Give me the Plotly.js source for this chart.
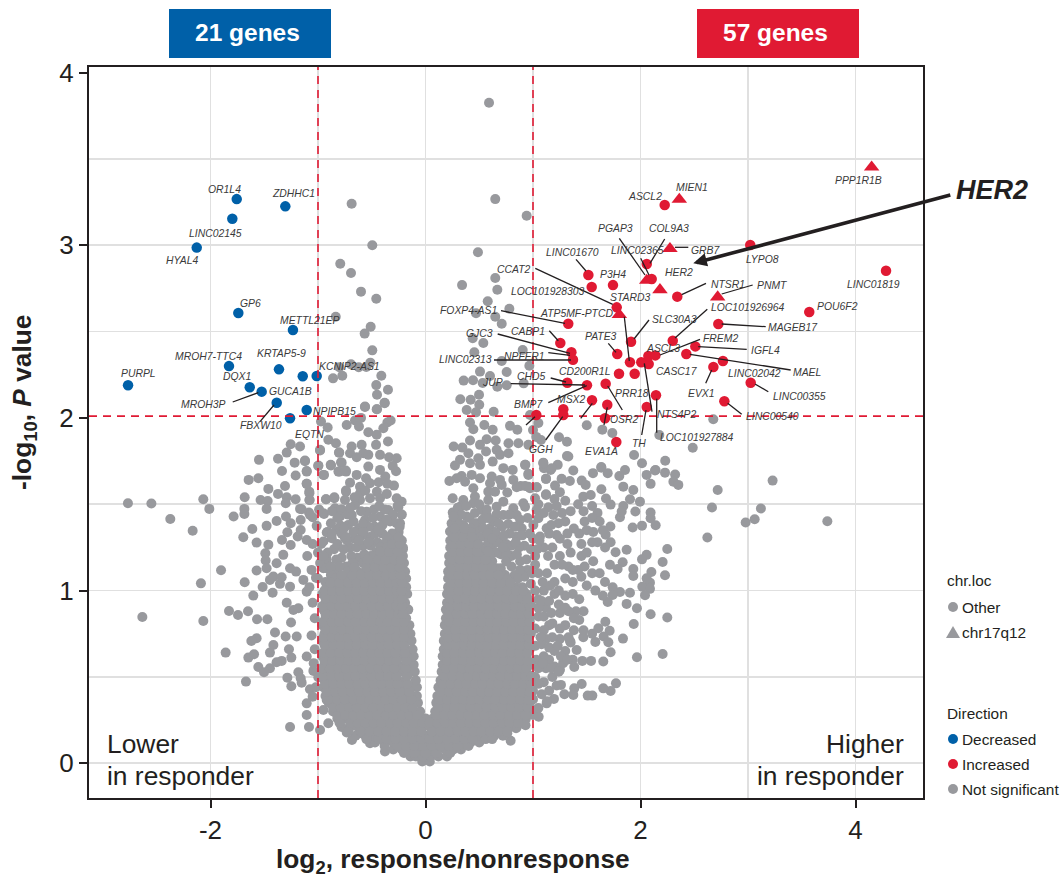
<!DOCTYPE html>
<html><head><meta charset="utf-8">
<script src="https://cdn.plot.ly/plotly-3.0.1.min.js"></script>
<style>html,body{margin:0;padding:0;background:#fff}#c{width:1062px;height:875px}</style>
</head><body><div id="c"></div>
<script>
// ---------- DATA (log2 fold change, -log10 P) ----------
const decreasedGenes = ["OR1L4","","ZDHHC1","HYAL4","GP6","METTL21EP","MROH7-TTC4","KRTAP5-9","","KCNIP2-AS1","PURPL","DQX1","MROH3P","FBXW10","NPIPB15","EQTN"];
const decreasedX = [-1.756,-1.797,-1.304,-2.128,-1.741,-1.233,-1.828,-1.363,-1.142,-1.012,-2.767,-1.635,-1.524,-1.384,-1.105,-1.26];
const decreasedY = [3.267,3.153,3.225,2.986,2.607,2.509,2.30,2.281,2.241,2.243,2.189,2.177,2.152,2.088,2.046,1.998];

const increasedCircleX = [2.225,1.515,1.546,1.744,2.058,2.104,2.342,1.779,1.328,3.021,4.284,3.570,2.724,1.254,1.357,1.372,1.784,1.912,1.902,2.007,2.076,2.073,2.138,2.300,2.51,2.426,2.767,2.678,3.025,2.78,1.80,1.946,1.319,1.502,1.676,1.549,1.691,2.144,2.058,1.031,1.282,1.282,1.67,1.775];
const increasedCircleY = [3.233,2.827,2.758,2.769,2.891,2.804,2.702,2.640,2.545,3.001,2.852,2.613,2.544,2.434,2.380,2.337,2.370,2.441,2.322,2.322,2.312,2.358,2.362,2.447,2.414,2.370,2.329,2.295,2.204,2.096,2.256,2.256,2.204,2.189,2.198,2.102,2.076,2.131,2.063,2.017,2.05,2.017,1.998,1.860];
const increasedTriangleX = [2.361,2.274,2.058,2.181,2.718,1.803,4.150];
const increasedTriangleY = [3.265,2.98,2.796,2.742,2.70,2.598,3.452];

const grayOutliers = [[.591,3.825],[.649,3.267],[.941,3.171],[-.687,3.24],[-.495,3.0],[-.793,2.893],[-.693,2.839],[-.6,2.731],[-.458,2.69],[-.835,2.586],[-.51,2.528],[-.566,2.488],[-.495,2.391],[-.513,2.32],[-.86,2.229],[-.802,2.293],[-.693,2.31],[-.621,2.293],[-.551,2.295],[-.411,2.244],[-.774,2.244],[-.458,2.19],[-.349,2.163],[-.451,2.134],[-.38,2.088],[-.563,2.063],[-.451,2.05],[-.6,2.0],
[.488,2.959],[.34,2.769],[.649,2.81],[.668,2.742],[.579,2.675],[.78,2.632],[.47,2.606],[.649,2.586],[.709,2.545],[.439,2.461],[.538,2.434],[.454,2.38],[.904,2.393],[.709,2.329],[.966,2.302],[.507,2.268],[.755,2.266],[.6,2.243],[.355,2.216],[.442,2.218],[.532,2.202],[.668,2.181],[.755,2.189],[.913,2.2],[.498,2.134],[.324,2.108],[.42,2.105],[.5,2.076],[.383,2.046],[.47,2.032],[.634,2.036],[.972,2.017],
[1.5,1.957],[1.645,1.932],[1.738,1.913],[2.175,1.901],[2.677,1.992],[2.486,1.827],[1.94,1.785],[2.014,1.737],[2.23,1.752],[2.14,1.698],[1.635,1.716],[1.856,1.698],[1.242,1.888],[1.316,1.862],[1.316,1.779],[1.074,1.872],[1.05,1.97],[1.0,1.93],[1.03,1.89]];
const grayFarRight = [[2.135,1.695],[2.057,1.67],[2.228,1.683],[2.094,1.618],[2.322,1.672],[2.306,1.631],[2.352,1.612],[3.229,1.637],[2.718,1.583],[2.665,1.481],[3.12,1.475],[3.062,1.413],[2.978,1.394],[3.738,1.402],[2.622,1.307],[1.933,1.583],[1.995,1.515],[1.84,1.602],[1.902,1.529],[1.803,1.664],[1.695,1.68],[1.558,1.68],[1.636,1.712],[1.329,1.776],[1.375,1.695],[1.23,1.728],[1.164,1.699],[1.102,1.708],[1.096,1.741],[.929,1.728],[.957,1.676],[1.121,1.647],[1.266,1.647],[1.343,1.635],[1.453,1.637],[1.49,1.612],[1.205,1.608],[1.25,1.57],[1.121,1.558],[1.034,1.598],[.957,1.602],[.885,1.606],[1.636,1.587],[1.468,1.544],[1.537,1.554],[1.679,1.533],[1.722,1.498],[1.84,1.49],[1.809,1.425],[1.825,1.458],[1.952,1.458],[2.094,1.452],[2.094,1.419],[2.141,1.378],[2.014,1.376],[1.927,1.365],[1.72,1.371],[1.676,1.324],[1.722,1.28],[1.871,1.237],[2.249,1.241],[2.057,1.207],[2.014,1.181],[2.206,1.166],[1.834,1.164],[1.768,1.222],[1.787,1.125],[1.716,1.149],[2.101,1.108],[1.933,1.125],[1.933,1.085],[2.228,1.089],[2.088,1.046],[2.057,1.071],[2.017,1.023],[2.088,1.01],[1.902,.988],[2.042,.973],[1.809,.992],[1.741,1.019],[1.741,.975],[1.695,.934],[1.871,.923],[1.967,.898],[2.094,.863],[2.249,.844],[1.937,.807],[1.837,.722],[1.673,.82],[1.608,.782],[1.713,.768],[1.657,.734],[1.701,.701],[1.58,.703],[1.722,.643],[1.967,.614],[2.206,.633],[1.654,.589],[1.54,.593],[1.459,.593],[1.384,.558],[1.406,.656],[1.344,.708],[1.468,.73],[1.772,.463],[1.722,.419],[1.654,.434],[1.552,.392],[1.509,.392],[1.453,.459],[1.384,.434],[1.375,.396],[1.292,.4],[1.26,.454],[1.251,.541],[1.195,.373],[1.127,.347],[1.053,.27],[.932,.255],[.792,.131],[.842,.203],[.761,.174],[1.0,.5],
[1.05,1.5],[1.2,1.53],[1.3,1.52],[1.35,1.46],[1.42,1.5],[1.47,1.46],[1.55,1.49],[1.6,1.45],[1.48,1.4],[1.55,1.42],[1.62,1.4],[1.3,1.4],[1.38,1.36],[1.43,1.33],[1.5,1.35],[1.56,1.34],[1.65,1.35],[1.6,1.28],[1.67,1.25],[1.55,1.28],[1.45,1.27],[1.25,1.3],[1.32,1.27],[1.18,1.25],[1.25,1.2],[1.35,1.22],[1.45,1.2],[1.5,1.22],[1.56,1.17],[1.48,1.14],[1.42,1.12],[1.33,1.14],[1.2,1.15],[1.13,1.1],[1.2,1.05],[1.3,1.07],[1.37,1.05],[1.45,1.08],[1.55,1.1],[1.62,1.1],[1.67,1.05],[1.5,1.03],[1.58,1.0],[1.65,.97],[1.43,.95],[1.37,.98],[1.3,.97],[1.2,.98],[1.1,1.0],[1.05,1.1],[1.02,1.2],[1.1,1.25],[1.47,.88],[1.4,.88],[1.43,.83],[1.33,.88],[1.25,.87],[1.12,.9],[1.05,.95],[1.3,.8],[1.25,.78],[1.15,.8],[1.05,.85],[1.38,.77],[1.47,.77],[1.55,.75],[1.35,.7],[1.25,.72],[1.12,.72],[1.02,.78],[1.2,.65],[1.3,.65],[1.37,.6],[1.1,.62],[1.02,.68],[1.28,.58],[1.2,.56],[1.12,.55],[1.03,.6],[1.1,.47],[1.18,.5],[1.02,.5],[1.15,.42],[1.08,.4],[1.0,.42],[1.05,.32],[.97,.33]];
const grayFarLeft = [[-2.768,1.506],[-2.55,1.504],[-2.374,1.415],[-2.166,1.347],[-2.067,1.529],[-2.011,1.473],[-1.785,1.429],[-1.685,1.473],[-1.685,1.444],[-1.682,1.541],[-1.645,1.641],[-1.555,1.651],[-1.549,1.757],[-1.372,1.763],[-1.291,1.799],[-1.254,1.847],[-1.167,1.834],[-1.335,1.693],[-1.217,1.741],[-1.121,1.753],[-1.208,1.666],[-1.105,1.689],[-.997,1.722],[-.981,1.811],[-.944,1.67],[-.882,1.728],[-.78,1.741],[-.802,1.799],[-.81,1.689],[-.739,1.689],[-1.105,1.618],[-1.307,1.606],[-1.462,1.589],[-1.372,1.56],[-1.291,1.541],[-1.534,1.525],[-1.468,1.519],[-1.3,1.506],[-1.208,1.529],[-1.478,1.473],[-1.167,1.473],[-1.081,1.573],[-1.078,1.525],[-.925,1.529],[-.848,1.535],[-.739,1.573],[-.84,1.473],[-1.084,1.452],[-.944,1.444],[-1.298,1.429],[-1.385,1.403],[-1.478,1.375],[-1.254,1.39],[-1.161,1.409],[-1.05,1.425],[-1.611,1.357],[-1.285,1.338],[-1.161,1.351],[-1.012,1.375],[-1.695,1.309],[-1.571,1.278],[-1.462,1.266],[-1.335,1.293],[-1.189,1.313],[-1.105,1.293],[-.95,1.284],[-.919,1.336],[-.826,1.355],[-.872,1.303],[-.79,1.375],[-.749,1.303],[-1.254,1.264],[-1.49,1.216],[-1.487,1.174],[-1.323,1.207],[-1.478,1.129],[-1.385,1.158],[-1.26,1.129],[-1.204,1.11],[-1.571,1.116],[-1.902,1.118],[-2.089,1.042],[-1.682,1.048],[-1.515,1.021],[-1.422,.988],[-1.602,.971],[-1.447,1.062],[-1.354,1.039],[-1.415,1.081],[-1.338,1.077],[-1.26,1.023],[-1.136,1.062],[-1.019,1.075],[-1.105,.994],[-1.291,.93],[-1.229,.888],[-1.183,.898],[-2.634,.847],[-2.067,.824],[-1.828,.882],[-1.744,.859],[-1.651,.88],[-1.567,.834],[-1.471,.834],[-1.251,.815],[-1.4,.757],[-1.301,.734],[-1.198,.734],[-1.571,.724],[-1.62,.708],[-1.415,.685],[-1.447,.641],[-1.27,.66],[-1.859,.641],[-1.648,.612],[-1.595,.631],[-1.338,.593],[-1.385,.585],[-1.248,.612],[-1.105,.618],[-1.555,.558],[-1.447,.55],[-1.502,.527],[-1.183,.527],[-1.043,.535],[-1.161,.492],[-1.285,.496],[-1.248,.446],[-1.152,.467],[-1.67,.473],[-1.075,.429],[-.997,.498],[-1.05,.386],[-1.105,.347],[-1.105,.28],[-1.26,.21],[-1.084,.21],[-.981,.193],[-.904,.232],[-.95,.309],[-.919,.367],[-.733,.178],[-.684,.135],[-.609,.174],[-.516,.116],[-.377,.068]];
const grayMidLeft = [[-.972,1.979],[-.91,1.944],[-.563,2.066],[-.454,2.05],[-.38,2.085],[-.656,1.985],[-.619,1.95],[-.733,1.959],[-.532,1.917],[-.454,1.902],[-.355,1.973],[-.324,1.985],[-.392,1.94],[-.904,1.873],[-.833,1.853],[-.805,1.799],[-.981,1.815],[-.687,1.834],[-.594,1.844],[-.46,1.844],[-.349,1.863],[-.578,1.795],[-.702,1.795],[-.64,1.772],[-.532,1.786],[-.423,1.786],[-.339,1.772],[-.268,1.766],[-1.121,1.749],[-.997,1.724],[-.879,1.724],[-.786,1.743],[-1.105,1.693],[-.95,1.67],[-.801,1.689],[-.742,1.695],[-.532,1.718],[-.423,1.699],[-.305,1.722],[-.274,1.691],[-.64,1.67],[-.553,1.651],[-.702,1.625],[-.436,1.627],[-.374,1.66],[-.609,1.602],[-.516,1.622],[-.293,1.608],[-.355,1.618],[-1.105,1.618],[-.74,1.579],[-.609,1.564],[-.452,1.573],[-1.08,1.564],[-1.08,1.525],[-.926,1.529],[-.848,1.541],[-.749,1.525],[-.609,1.525],[-.516,1.535],[-.423,1.535],[-.268,1.535],[-.222,1.515],[-.253,1.483],[-.656,1.496],[-.842,1.477],[-.78,1.471],[-.346,1.467],[-.547,1.457],[-1.152,1.471],[-1.074,1.438],[-.95,1.448],[-.795,1.429],[-.686,1.438],[-.562,1.409],[-.423,1.429],[-.237,1.39],[-.33,1.4],[-.47,1.37],[-.62,1.36],[-.72,1.38],[-.88,1.39],[-.25,1.34],[-.31,1.33],[-.4,1.33],[-.52,1.31],[-.66,1.3],[-.22,1.29],[-.33,1.27],[-.45,1.28],[-.58,1.26],[-.7,1.25],[-.85,1.24],[-1.0,1.22],[-1.1,1.2],[-.92,1.18],[-.78,1.19],[-.21,1.24],[-.28,1.21],[-.4,1.22],[-.51,1.2],[-.63,1.19],[-1.06,1.12],[-.95,1.13],[-.84,1.11],
[-.3,1.44],[-.38,1.47],[-.48,1.47],[-.6,1.46],[-.72,1.44],[-.27,1.39],[-.4,1.38],[-.53,1.37],[-.67,1.34],[-.78,1.33],[-.91,1.34],[-.36,1.31],[-.47,1.33],[-.59,1.32],[-.73,1.29],[-.82,1.27],[-.97,1.27],[-.27,1.28],[-.39,1.27],[-.51,1.26],[-.64,1.25],[-.76,1.24],[-.91,1.22],[-1.05,1.27],[-.35,1.23],[-.46,1.22],[-.57,1.21],[-.69,1.2],[-.83,1.18],[-.98,1.16],[-.74,1.14],[-.88,1.09],[-1.0,1.07],[-1.08,1.02],[-1.05,.93],[-1.03,.84],[-1.06,.74],[-1.03,.66],[-1.04,.58],[-1.02,.44],[-.22,1.44],[-.26,1.49],[-.43,1.49],[-.7,1.48],[-.82,1.42],[-.36,1.56],[-.56,1.58],[-.66,1.54],[-.99,1.47],[-.87,1.46],
[-.24,1.37],[-.36,1.41],[-.49,1.42],[-.58,1.39],[-.67,1.4],[-.76,1.36],[-.87,1.33],[-.44,1.35],[-.58,1.34],[-.62,1.29],[-.53,1.28],[-.42,1.25],[-.31,1.18],[-.42,1.17],[-.55,1.16],[-.66,1.15],[-.8,1.14],[-.92,1.13],[-.7,1.1],[-.78,1.08],[-.93,1.05],[-.74,1.31],[-.95,1.2],[-.88,1.14]];
const grayMidRight = [[.414,1.973],[.547,1.959],[.445,1.934],[.625,1.931],[.786,1.954],[.854,1.931],[.414,1.869],[.507,1.844],[.569,1.876],[.653,1.869],[.772,1.853],[.864,1.853],[.957,1.844],[.262,1.834],[.343,1.828],[.399,1.795],[.563,1.805],[.662,1.815],[.693,1.786],[.772,1.795],[.491,1.766],[.321,1.757],[.274,1.724],[.414,1.737],[.507,1.728],[.625,1.747],[.724,1.709],[.811,1.699],[.926,1.728],[.43,1.67],[.336,1.664],[.29,1.651],[.222,1.635],[.507,1.651],[.616,1.66],[.693,1.641],[.817,1.641],[.957,1.67],[.368,1.631],[.445,1.593],[.6,1.622],[.709,1.612],[.926,1.606],[1.034,1.598],[1.121,1.647],[1.174,1.709],[1.096,1.737],[1.121,1.554],[.253,1.535],[.352,1.525],[.46,1.544],[.584,1.573],[.647,1.573],[.761,1.568],[.848,1.598],[.972,1.593],[.445,1.506],[.584,1.525],[.724,1.515],[.91,1.506],[1.019,1.535],[.321,1.486],[.522,1.467],[.662,1.486],[.817,1.477],[.926,1.486],[1.034,1.467],[1.143,1.483],[1.22,1.49],[.253,1.452],[.383,1.429],[.569,1.438],[.724,1.438],[.848,1.438],[1.05,1.419],[1.189,1.438],[.243,1.39],[.352,1.38],[.476,1.39],[.6,1.361],[.77,1.386],[.895,1.361],[1.003,1.38],[1.127,1.361],[1.236,1.39],[.228,1.342],[.414,1.332],[.693,1.303],[.848,1.313],[1.065,1.313],[1.22,1.322],[.56,1.31],[.62,1.26],[.75,1.27],[.92,1.26],[1.0,1.3],[.7,1.21],[.8,1.2],[.88,1.17],[.98,1.24],[.62,1.17],[.7,1.13],[.8,1.14],[.95,1.12],
[.3,1.48],[.38,1.49],[.5,1.5],[.66,1.44],[.78,1.44],[.3,1.4],[.41,1.42],[.53,1.41],[.63,1.4],[.71,1.37],[.83,1.37],[.95,1.42],[.3,1.35],[.36,1.33],[.47,1.35],[.54,1.36],[.65,1.34],[.78,1.33],[.9,1.32],[.3,1.3],[.41,1.29],[.51,1.31],[.58,1.27],[.67,1.28],[.8,1.26],[.87,1.25],[.28,1.25],[.36,1.25],[.46,1.26],[.55,1.23],[.66,1.22],[.75,1.22],[.85,1.21],[.94,1.18],[1.02,1.15],[.6,1.21],[.66,1.13],[.75,1.17],[.83,1.09],[.92,1.08],[.98,1.04],[1.02,1.0],[1.09,1.05],[1.16,1.03],[1.05,.9],[1.1,.85],[1.17,.87],[1.24,.92],[1.1,.77],[1.18,.73],[1.08,.69],[1.15,.67],[1.05,.55],[1.15,.6],[1.05,.46],[1.22,.45],[1.13,.36],[1.0,.37],[.95,.29],[1.0,.28],[.93,.22],[.88,.27],[1.26,.62],[1.33,.73],[1.3,.9],[1.38,.84],[1.37,1.12],[1.27,1.15],[1.14,1.2],[1.06,1.29],[1.15,1.33],[1.32,1.33],[1.04,1.24],[1.1,1.45],[1.27,1.45],[1.17,1.38],
[.33,1.44],[.46,1.45],[.57,1.47],[.45,1.39],[.58,1.42],[.68,1.39],[.88,1.41],[.42,1.36],[.58,1.33],[.73,1.32],[.62,1.3],[.84,1.28],[.97,1.33],[.72,1.25],[.6,1.14],[.74,1.09],[.88,1.12],[.99,1.1],[1.08,.94],[1.15,.94],[1.24,1.0],[1.07,.73],[1.18,.81],[1.23,.68],[1.09,.58],[1.17,.55],[1.24,.53],[1.32,.6]];

// Solid body of the volcano, read row by row: first number is -log10 P, the rest log2 fold change
const grayBodyRows = [
[.01,-.03,.04],
[.04,-.14,-.09,-.02,.05,.12,.2],
[.08,-.3,-.22,-.14,-.06,.02,.1,.18,.26,.33],
[.12,-.47,-.38,-.3,-.22,-.14,-.06,.02,.1,.18,.26,.34,.42,.5],
[.16,-.65,-.56,-.48,-.4,-.32,-.24,-.16,-.08,0,.08,.16,.24,.32,.4,.48,.56,.64,.72],
[.21,-.78,-.7,-.63,-.55,-.48,-.4,-.33,-.25,-.18,-.1,-.03,.04,.11,.18,.26,.33,.41,.48,.56,.63,.71,.78,.85],
[.26,-.82,-.74,-.67,-.59,-.52,-.44,-.37,-.29,-.22,-.14,-.07,0,.07,.14,.22,.29,.37,.44,.52,.59,.67,.74,.82,.89],
[.30,-.86,-.78,-.71,-.63,-.56,-.48,-.41,-.33,-.26,-.18,-.11,-.05,.09,.16,.24,.31,.39,.46,.54,.61,.69,.76,.84,.91,.97],
[.35,-.9,-.82,-.75,-.67,-.6,-.52,-.45,-.37,-.3,-.22,-.15,-.07,.1,.19,.27,.34,.42,.49,.57,.64,.72,.79,.87,.94],
[.39,-.93,-.86,-.78,-.71,-.63,-.56,-.48,-.41,-.33,-.26,-.18,-.08,.11,.16,.24,.31,.39,.46,.54,.61,.69,.76,.84,.91,.98],
[.44,-.95,-.87,-.8,-.72,-.65,-.57,-.5,-.42,-.35,-.27,-.2,-.12,-.08,.12,.19,.27,.34,.42,.49,.57,.64,.72,.79,.87,.94],
[.48,-.94,-.86,-.79,-.71,-.64,-.56,-.49,-.41,-.34,-.26,-.19,-.09,.14,.2,.24,.31,.39,.46,.54,.61,.69,.76,.84,.91,.97],
[.53,-.96,-.88,-.81,-.73,-.66,-.58,-.51,-.43,-.36,-.28,-.21,-.13,-.1,.15,.22,.27,.34,.42,.49,.57,.64,.72,.79,.87,.94],
[.57,-.94,-.86,-.79,-.71,-.64,-.56,-.49,-.41,-.34,-.26,-.19,-.11,.16,.24,.31,.39,.46,.54,.61,.69,.76,.84,.91,.98],
[.62,-.96,-.88,-.81,-.73,-.66,-.58,-.51,-.43,-.36,-.28,-.21,-.13,-.11,.16,.2,.27,.34,.42,.49,.57,.64,.72,.79,.87,.94],
[.66,-.93,-.86,-.78,-.71,-.63,-.56,-.48,-.41,-.33,-.26,-.18,-.12,.17,.24,.31,.39,.46,.54,.61,.69,.76,.84,.91,.97],
[.71,-.96,-.88,-.81,-.73,-.66,-.58,-.51,-.43,-.36,-.28,-.21,-.13,.17,.2,.27,.34,.42,.49,.57,.64,.72,.79,.87,.94],
[.75,-.94,-.86,-.79,-.71,-.64,-.56,-.49,-.41,-.34,-.26,-.19,-.14,.18,.24,.31,.39,.46,.54,.61,.69,.76,.84,.91,.98],
[.80,-.96,-.88,-.81,-.73,-.66,-.58,-.51,-.43,-.36,-.28,-.21,-.15,.18,.27,.34,.42,.49,.57,.64,.72,.79,.87,.94],
[.84,-.93,-.86,-.78,-.71,-.63,-.56,-.48,-.41,-.33,-.26,-.18,.19,.24,.31,.39,.46,.54,.61,.69,.76,.84,.91,.97],
[.89,-.95,-.88,-.81,-.73,-.66,-.58,-.51,-.43,-.36,-.28,-.21,-.16,.19,.27,.34,.42,.49,.57,.64,.72,.79,.87,.94],
[.93,-.93,-.86,-.79,-.71,-.64,-.56,-.49,-.41,-.34,-.26,-.19,.2,.24,.31,.39,.46,.54,.61,.69,.76,.84,.91,.98],
[.98,-.96,-.88,-.81,-.73,-.66,-.58,-.51,-.43,-.36,-.28,-.21,-.17,.2,.27,.34,.42,.49,.57,.64,.72,.79,.87,.94],
[1.02,-.92,-.86,-.78,-.71,-.63,-.56,-.48,-.41,-.33,-.26,-.18,.21,.24,.31,.39,.46,.54,.61,.69,.76,.84,.9],
[1.07,-.84,-.75,-.66,-.58,-.51,-.43,-.36,-.28,-.21,-.18,.21,.27,.34,.42,.49,.57,.66,.75,.86],
[1.11,-.72,-.63,-.56,-.48,-.41,-.33,-.26,-.19,.21,.24,.31,.39,.46,.54,.62,.7],
[1.16,-.68,-.58,-.51,-.43,-.36,-.28,-.2,.22,.27,.34,.42,.49,.57],
[1.2,-.56,-.48,-.41,-.33,-.26,-.21,.22,.24,.31,.39,.46,.54],
[1.25,-.36,-.29,-.21,.23,.27,.34,.42,.5],
[1.29,-.28,.23,.31,.39,.46],
[1.34,.24,.28,.34,.42],
[1.38,.25,.31],
[1.43,.26]
];
// Second reading of the same body, between the rows above
const grayBodyInfill = [
[.06,-.2,-.1,0,.1,.23],
[.10,-.38,-.26,-.18,-.1,-.02,.06,.14,.22,.3,.4],
[.14,-.55,-.44,-.36,-.28,-.2,-.12,-.04,.04,.12,.2,.28,.36,.44,.56,.62],
[.185,-.72,-.6,-.52,-.44,-.36,-.28,-.2,-.12,-.04,.06,.14,.22,.3,.37,.45,.52,.6,.68,.76],
[.235,-.8,-.7,-.63,-.56,-.48,-.41,-.33,-.26,-.18,-.11,-.03,.04,.11,.18,.26,.33,.41,.48,.56,.63,.71,.78,.86],
[.28,-.82,-.75,-.67,-.6,-.52,-.45,-.37,-.3,-.22,-.15,-.08,.1,.18,.25,.33,.4,.48,.55,.63,.7,.78,.85,.93],
[.325,-.86,-.79,-.71,-.64,-.56,-.49,-.41,-.34,-.26,-.19,-.12,.12,.2,.27,.35,.42,.5,.57,.65,.72,.8,.87,.95],
[.37,-.91,-.82,-.75,-.67,-.6,-.52,-.45,-.37,-.3,-.22,-.13,.13,.2,.28,.35,.43,.5,.58,.65,.73,.8,.88,.96],
[.415,-.92,-.84,-.77,-.69,-.62,-.54,-.47,-.39,-.32,-.24,-.15,.14,.22,.29,.37,.44,.52,.59,.67,.74,.82,.89,.97],
[.46,-.93,-.86,-.78,-.71,-.63,-.56,-.48,-.41,-.33,-.26,-.17,.16,.23,.31,.38,.46,.53,.61,.68,.76,.83,.91,.98],
[.505,-.95,-.87,-.8,-.72,-.65,-.57,-.5,-.42,-.35,-.27,-.17,.18,.25,.33,.4,.48,.55,.63,.7,.78,.85,.93,.99],
[.55,-.96,-.89,-.81,-.74,-.66,-.59,-.51,-.44,-.36,-.29,-.18,.19,.26,.34,.41,.49,.56,.64,.71,.79,.86,.94],
[.595,-.94,-.87,-.79,-.72,-.64,-.57,-.49,-.42,-.34,-.27,-.18,.2,.28,.35,.43,.5,.58,.65,.73,.8,.88,.95],
[.64,-.95,-.88,-.8,-.73,-.65,-.58,-.5,-.43,-.35,-.28,-.19,.2,.27,.35,.42,.5,.57,.65,.72,.8,.87,.95],
[.685,-.94,-.86,-.79,-.71,-.64,-.56,-.49,-.41,-.34,-.26,-.2,.21,.28,.36,.43,.51,.58,.66,.73,.81,.88,.96],
[.73,-.95,-.87,-.8,-.72,-.65,-.57,-.5,-.42,-.35,-.27,-.2,.21,.29,.36,.44,.51,.59,.66,.74,.81,.89,.96],
[.775,-.93,-.85,-.78,-.7,-.63,-.55,-.48,-.4,-.33,-.25,-.2,.21,.28,.36,.43,.51,.58,.66,.73,.81,.88,.96],
[.82,-.95,-.87,-.8,-.72,-.65,-.57,-.5,-.42,-.35,-.27,-.2,.22,.3,.37,.45,.52,.6,.67,.75,.82,.9,.97],
[.865,-.93,-.85,-.78,-.7,-.63,-.55,-.48,-.4,-.33,-.25,-.21,.22,.29,.37,.44,.52,.59,.67,.74,.82,.89,.96],
[.91,-.96,-.87,-.8,-.72,-.65,-.57,-.5,-.42,-.35,-.27,-.22,.23,.3,.38,.45,.53,.6,.68,.75,.83,.9,.97],
[.955,-.93,-.85,-.78,-.7,-.63,-.55,-.48,-.4,-.33,-.25,-.22,.23,.3,.37,.45,.52,.6,.67,.75,.82,.9,.95],
[1.0,-.94,-.87,-.79,-.72,-.64,-.57,-.49,-.42,-.34,-.27,-.22,.24,.31,.39,.46,.54,.61,.69,.76,.84,.91],
[1.045,-.88,-.8,-.72,-.64,-.57,-.49,-.42,-.34,-.27,-.22,.24,.32,.39,.47,.54,.62,.7,.79],
[1.09,-.78,-.68,-.6,-.52,-.45,-.37,-.3,-.23,.24,.31,.39,.46,.54,.6,.68],
[1.135,-.66,-.55,-.47,-.39,-.32,-.24,.25,.32,.39,.47,.54,.62],
[1.18,-.54,-.44,-.37,-.29,-.23,.25,.32,.4,.48,.56],
[1.225,-.42,-.34,-.26,.25,.33,.4,.48,.58],
[1.27,-.31,-.24,.26,.33,.41,.49],
[1.31,-.25,.27,.35,.43],
[1.36,.27,.36]
];

// Gene labels and the axis tick labels
const tickX = [-2,0,2,4];
const tickY = [0,1,2,3,4];
const geneLabels = [
["MIEN1",692.3,187.3],["ASCL2",645,196.3],["PGAP3",615.3,229],["COL9A3",668.7,229],["LINC02365",637,250.3],["GRB7",705.7,250.3],["LINC01670",572,252.3],["CCAT2",514,269.3],["P3H4",613.3,274.3],["HER2",679,272.3],["NTSR1",728.3,284],["LOC101928303",548.3,291.7],["STARD3",630,297],["LOC101926964",747.7,307.3],["FOXP4-AS1",468.7,310.3],["ATP5MF-PTCD",576.7,313.7],["SLC30A3",674.3,319],
["PPP1R1B",858.3,180.3],["LYPO8",762.3,259.3],["PNMT",772,285],["LINC01819",873.3,284.3],["POU6F2",837,306.3],["MAGEB17",792.7,327.3],["FREM2",720.3,338.3],["IGFL4",765,350.3],
["GJC3",479.3,333.3],["CABP1",528.3,331],["PATE3",601,336],["LINC02313",465,359.3],["NPFFR1",524.3,356],["ASCL3",662.7,348.7],["MAEL",807.3,372.3],["CASC17",677,371.3],["LINC02042",754,373.3],["CD200R1L",585,371.3],["CHD5",531,376.7],["JUP",492.7,382.7],["PRR18",632,393.3],["EVX1",701.3,393.3],["LINC00355",799,396.3],["MSX2",571.3,399.3],["BMP7",529,404.3],["NTS4P2",676.7,414.3],["LINC00540",772.3,416.7],["OSR2",624.7,419.3],["LOC101927884",697.3,437.3],["TH",638.7,443],["GGH",541,450],["EVA1A",601.3,451.7],
["OR1L4",224,189.3],["ZDHHC1",293,193.3],["LINC02145",215.7,233.3],["HYAL4",182.7,260.3],["GP6",250.7,303.3],["METTL21EP",309.7,320.3],["MROH7-TTC4",208.3,356],["KRTAP5-9",281,354],["KCNIP2-AS1",349,366.3],["PURPL",138.3,373.3],["DQX1",237,376.7],["GUCA1B",290,391.3],["MROH3P",203.7,404.3],["NPIPB15",334,411.3],["FBXW10",261,425.7],["EQTN",309.3,434.3]];

// Leader lines, in page pixels of the reference
const leaders = [[576,259.3,586,271],[535.3,268.3,612.7,304.3],[619.3,238.3,645,275],[664.7,239,650,263.3],[640.7,258.3,649,275],[675,247.3,688.3,247.3],[681.7,294.7,706,283.3],[721.7,294,752.7,285],[501,310.7,565,323.3],[624.3,316.7,629.3,361],[649,320,634,339],[707.3,309.3,675,338],[721.7,324,765.7,326.7],[700,339.3,660,355],[698.3,346.7,746.7,349.3],[690,354.3,790.7,370],[497.7,334,570,353.3],[549.3,330.7,558.3,340.7],[494,360,571,360],[548.3,352.7,570,355.3],[608.3,343.3,616,352.3],[550.7,378,566,382],[510.7,383.7,585,385],[548.3,402.7,586.7,385.7],[607.7,386,622.3,410],[580.7,418.3,592.3,403.3],[607.3,407.3,604,425],[641.7,435,646,410],[644.3,363.3,652,411.7],[656.7,398.7,656.7,432.7],[545.7,440,562.7,416.7],[526,425,535,416.7],[705.7,383.3,711.7,370],[755,384,768.3,391.7],[727.7,403.3,741.7,414.3],[232.7,402,258.3,392.7],[260,421.7,274,405]];

// ---------- STYLE / LAYOUT ----------
const GRAY="#98999d", RED="#e01a33", BLUE="#0060a8", INK="#231f20", FONT="Liberation Sans, Arial, sans-serif";
const L=89,R=923,T=67,B=798;
const px=v=>(v-L)/(R-L), py=v=>(B-v)/(B-T);

const grayX=[],grayY=[];
[grayOutliers,grayFarRight,grayFarLeft,grayMidLeft,grayMidRight].forEach(s=>s.forEach(p=>{grayX.push(p[0]);grayY.push(p[1]);}));
[grayBodyRows,grayBodyInfill].forEach(t=>t.forEach(r=>{for(let i=1;i<r.length;i++){grayX.push(r[i]);grayY.push(r[0]);}}));

const traces=[
 {x:grayX,y:grayY,type:"scatter",mode:"markers",name:"Not significant",marker:{color:GRAY,size:10,line:{width:0}},hoverinfo:"skip",showlegend:false},
 {x:decreasedX,y:decreasedY,text:decreasedGenes,type:"scatter",mode:"markers",name:"Decreased",marker:{color:BLUE,size:10.5,line:{width:0}},showlegend:false},
 {x:increasedCircleX,y:increasedCircleY,type:"scatter",mode:"markers",name:"Increased",marker:{color:RED,size:10.5,line:{width:0}},showlegend:false},
 {x:increasedTriangleX,y:increasedTriangleY,type:"scatter",mode:"markers",name:"chr17q12",marker:{color:RED,size:13.5,symbol:"triangle-up",line:{width:0}},showlegend:false}
];

const shapes=[];
[-1,1].forEach(v=>shapes.push({type:"line",layer:"above",xref:"x",yref:"paper",x0:v,x1:v,y0:0,y1:1,line:{color:RED,width:1.6,dash:"8px,6px"}}));
shapes.push({type:"line",layer:"above",xref:"paper",yref:"y",x0:0,x1:1,y0:2.01,y1:2.01,line:{color:RED,width:1.6,dash:"8px,6px"}});
leaders.forEach(l=>shapes.push({type:"line",layer:"above",xref:"paper",yref:"paper",x0:px(l[0]),y0:py(l[1]),x1:px(l[2]),y1:py(l[3]),line:{color:INK,width:1.3}}));
const box=(a,b,c,d,col)=>shapes.push({type:"rect",layer:"below",xref:"paper",yref:"paper",x0:px(a),x1:px(b),y0:py(c),y1:py(d),fillcolor:col,line:{width:0}});
box(169,331,9,58,BLUE); box(697,859,9,58,RED);
const dot=(cx,cy,col)=>shapes.push({type:"circle",layer:"above",xref:"paper",yref:"paper",x0:px(cx-5),x1:px(cx+5),y0:py(cy+5),y1:py(cy-5),fillcolor:col,line:{width:0}});
dot(953,607,GRAY); dot(953,739,BLUE); dot(953,764,RED); dot(953,789,GRAY);
shapes.push({type:"path",layer:"above",xref:"paper",yref:"paper",fillcolor:GRAY,line:{width:0},
  path:`M ${px(946)} ${py(638)} L ${px(960)} ${py(638)} L ${px(953)} ${py(626)} Z`});

const ann=[];
const note=(text,x,y,size,o)=>ann.push(Object.assign({text,xref:"paper",yref:"paper",x:px(x),y:py(y),showarrow:false,xanchor:"center",yanchor:"middle",font:{family:FONT,size,color:INK}},o||{}));
geneLabels.forEach(g=>note("<i>"+g[0]+"</i>",g[1],g[2],10.4,{font:{family:FONT,size:10.4,color:"#3a3a3a"}}));
note("<b>21 genes</b>",247.5,33,24.5,{font:{family:FONT,size:24.5,color:"#fff"}});
note("<b>57 genes</b>",775,33,24.5,{font:{family:FONT,size:24.5,color:"#fff"}});
note("<b>log<sub>2</sub>, response/nonresponse</b>",452.5,861,26.3);
note("<b>-log<sub>10</sub>, <i>P</i> value</b>",24,403,26.3,{textangle:-90});
note("Lower",105,744,26.4,{xanchor:"left"});
note("in responder",105,776,26.4,{xanchor:"left"});
note("Higher",906,744,26.4,{xanchor:"right"});
note("in responder",906,776,26.4,{xanchor:"right"});
note("<b><i>HER2</i></b>",992,190,27);
const leg=(t,x,y)=>note(t,x-2,y,15.4,{xanchor:"left"});
leg("chr.loc",947,580);leg("Other",962,607);leg("chr17q12",962,632);leg("Direction",947,713);leg("Decreased",962,739);leg("Increased",962,764);leg("Not significant",962,789);
ann.push({text:" ",xref:"paper",yref:"paper",x:px(693.3),y:py(263.3),ax:260,ay:-69,showarrow:true,arrowhead:2,arrowsize:.75,arrowwidth:3.6,arrowcolor:INK,standoff:0,startstandoff:0});

const axisBase={showline:true,mirror:true,linecolor:INK,linewidth:2,ticks:"outside",ticklen:8,tickwidth:2,tickcolor:INK,showgrid:false,zeroline:false,tickfont:{family:FONT,size:26,color:INK},tickmode:"array"};
const layout={
 width:1062,height:875,autosize:false,margin:{l:L,r:1062-R,t:T,b:875-B,pad:0},
 paper_bgcolor:"#fff",plot_bgcolor:"#fff",showlegend:false,
 xaxis:Object.assign({},axisBase,{range:[(L-425.5)/107.5,(R-425.5)/107.5],tickvals:tickX,ticktext:tickX.map(String),
   minor:{tickmode:"array",tickvals:[-2,-1,0,1,2,3,4],showgrid:true,gridcolor:"#e0e0e0",gridwidth:1.6,ticks:""}}),
 yaxis:Object.assign({},axisBase,{range:[(763.3-B)/172.7,(763.3-T)/172.7],tickvals:tickY,ticktext:tickY.map(String),
   minor:{tickmode:"array",tickvals:[0,.5,1,1.5,2.5,3,3.5],showgrid:true,gridcolor:"#e0e0e0",gridwidth:1.6,ticks:""}}),
 shapes,annotations:ann,hovermode:false
};
Plotly.newPlot("c",traces,layout,{displayModeBar:false,staticPlot:true});
</script></body></html>
